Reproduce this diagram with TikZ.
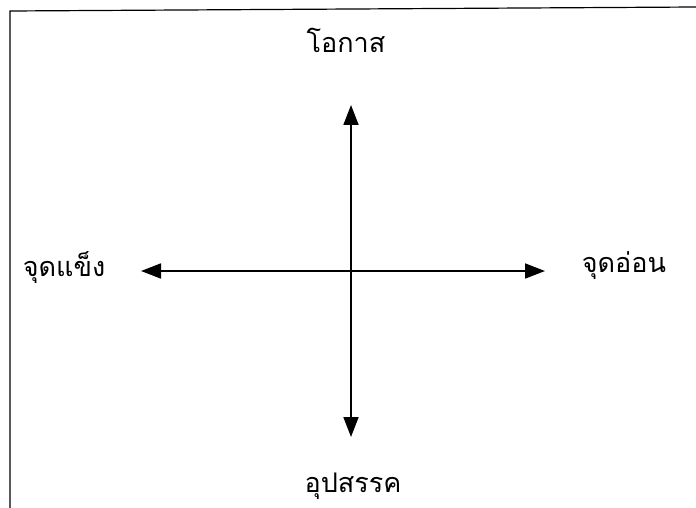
\documentclass[tikz,border=0pt]{standalone}
\usepackage{fontspec}
\newfontfamily\thaifont[Script=Thai]{Loma}
\usetikzlibrary{arrows.meta}

\begin{document}
\begin{tikzpicture}[x=1pt,y=-1pt,
  axis/.style={line width=1.8pt,
    {Triangle[length=20pt,width=15pt]}-{Triangle[length=20pt,width=15pt]}},
  lbl/.style={font=\thaifont\fontsize{27}{31}\selectfont, inner sep=0pt}]
  \useasboundingbox (0,0) rectangle (696,508);
  % frame
  \draw[line width=1.2pt] (10,508) -- (10,11) -- (696,7);
  % ends of the cross
  \coordinate (n) at (351,105);
  \coordinate (s) at (351,437);
  \coordinate (w) at (141,271);
  \coordinate (e) at (545,271);
  \draw[axis] (n) -- (s);
  \draw[axis] (w) -- (e);
  % labels
  \node[lbl] (opp) at (346,40) {โอกาส};
  \node[lbl] (str) at (64,268) {จุดแข็ง};
  \node[lbl] (wea) at (624,266) {จุดอ่อน};
  \node[lbl] (thr) at (353,486) {อุปสรรค};
\end{tikzpicture}
\end{document}
